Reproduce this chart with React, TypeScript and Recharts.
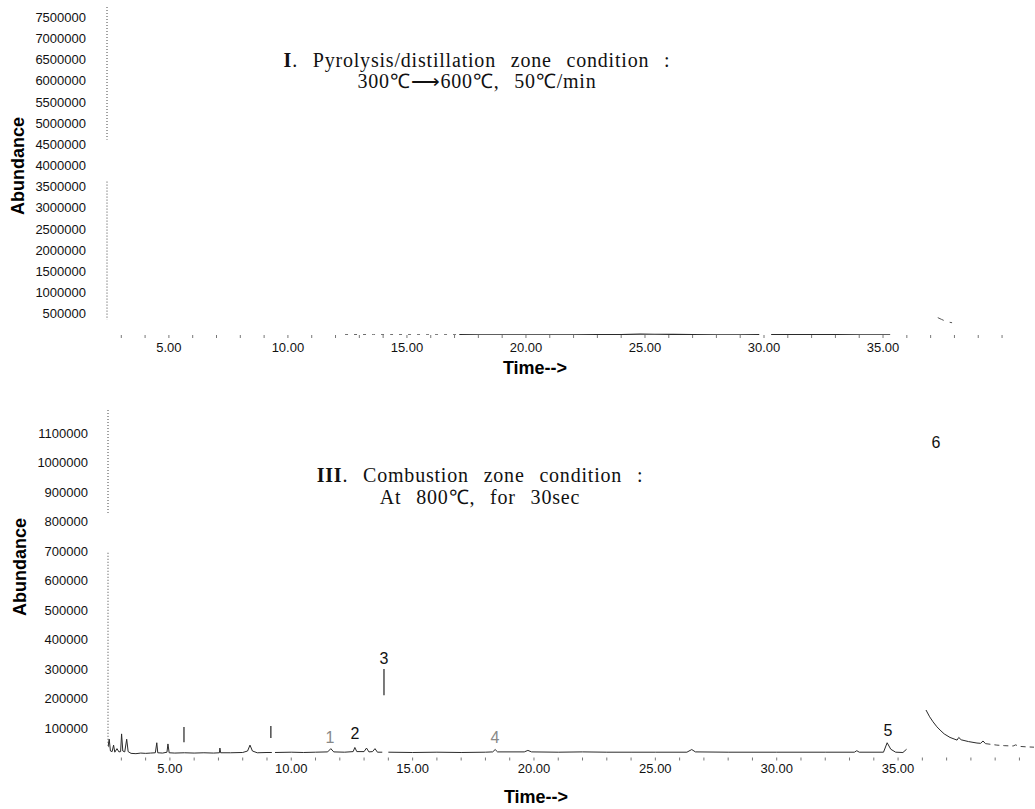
import { LineChart, Line, XAxis, YAxis, ReferenceLine, ReferenceDot, Label } from 'recharts';

type Pt = [number, number | null];

/* ── Panel I: pyrolysis / distillation zone ── */
const PYRO_Y_TICKS = [
  500000, 1000000, 1500000, 2000000, 2500000, 3000000, 3500000,
  4000000, 4500000, 5000000, 5500000, 6000000, 6500000, 7000000, 7500000,
];
// faint start of the baseline (scan drops most of it)
const PYRO_EARLY: Pt[] = [
  [12.4, 9000], [13.0, 12000], [13.6, 8000], [14.3, 10000], [15.0, 9000],
  [15.8, 7000], [16.5, 8000], [17.2, 8000],
];
const PYRO_MAIN: Pt[] = [
  [17.2, 8000], [18.0, 6000], [19.0, 5000], [20.0, 6000], [21.0, 5000],
  [22.0, 6000], [23.0, 8000], [24.0, 12000], [24.8, 22000], [25.4, 18000],
  [26.2, 14000], [27.0, 8000], [28.0, 6000], [29.0, 6000], [29.8, 7000],
  [30.0, null], [30.3, 7000], [31.0, 9000], [32.0, 8000], [33.0, 7000],
  [34.0, 6000], [35.3, 6000],
];
const PYRO_TAIL: Pt[] = [
  [37.3, 410000], [37.45, 370000], [37.55, 345000], [37.65, null],
  [37.8, 300000], [37.9, 290000],
];

/* ── Panel III: combustion zone ── */
const COMB_Y_TICKS = [
  100000, 200000, 300000, 400000, 500000, 600000,
  700000, 800000, 900000, 1000000, 1100000,
];
const COMB_TRACE: Pt[] = [
  [2.45, 35000], [2.5, 62000], [2.55, 22000], [2.62, 20000], [2.68, 42000],
  [2.73, 18000], [2.82, 30000], [2.9, 19000], [2.97, 20000], [3.01, 80000],
  [3.06, 22000], [3.14, 19000], [3.22, 62000], [3.28, 20000], [3.4, 14000],
  [3.6, 13000], [3.8, 15000], [4.0, 14000], [4.2, 15000], [4.4, 16000],
  [4.46, 50000], [4.5, 16000], [4.7, 15000], [4.88, 18000], [4.92, 46000],
  [4.97, 16000], [5.2, 15000], [5.6, 16000], [6.0, 15000], [6.4, 16000],
  [6.8, 15000], [7.04, 16000], [7.06, 32000], [7.09, 16000], [7.5, 16000],
  [8.0, 17000], [8.2, 22000], [8.3, 42000], [8.4, 22000], [8.6, 16000],
  [9.0, 17000], [9.2, 17000], [9.26, null], [9.33, 17000], [10.0, 18000],
  [10.5, 17000], [11.0, 18000], [11.5, 19000], [11.63, 30000], [11.75, 19000],
  [12.2, 18000], [12.55, 20000], [12.62, 34000], [12.7, 20000], [13.0, 20000],
  [13.1, 32000], [13.2, 19000], [13.35, 20000], [13.45, 30000], [13.55, 18000],
  [13.75, 18000], [13.85, null], [14.0, 18000], [15.0, 17000], [16.0, 18000],
  [17.0, 17000], [18.0, 18000], [18.3, 19000], [18.4, 27000], [18.5, 19000],
  [19.6, 19000], [19.75, 24000], [19.9, 19000], [21.0, 18000], [22.0, 19000],
  [23.0, 18000], [24.0, 18000], [25.0, 18000], [26.3, 18000], [26.5, 27000],
  [26.65, 19000], [28.0, 18000], [30.0, 18000], [32.0, 18000], [33.2, 18000],
  [33.3, 23000], [33.4, 18000], [34.4, 18000], [34.55, 50000], [34.7, 28000],
  [34.9, 18000], [35.2, 17000], [35.35, 28000],
];
const COMB_TAIL: Pt[] = [
  [36.15, 161000], [36.3, 138000], [36.44, 121000], [36.6, 104000],
  [36.73, 93000], [36.9, 80000], [37.14, 68000], [37.43, 59000],
  [37.5, 68000], [37.6, 60000], [37.9, 54000], [38.25, 49000],
  [38.4, 48000], [38.5, 56000], [38.6, 47000],
];
const COMB_TAIL_FADED: Pt[] = [
  [38.6, 47000], [39.07, 42000], [39.4, 40000], [39.74, 39000],
  [39.85, 43000], [39.95, 38000], [40.3, 36000], [40.6, 35000],
];
const PEAK_LABELS = [
  { id: '1', t: 11.59, v: 69000, faint: true },
  { id: '2', t: 12.62, v: 83000, faint: false },
  { id: '3', t: 13.82, v: 337000, faint: false },
  { id: '4', t: 18.39, v: 69000, faint: true },
  { id: '5', t: 34.58, v: 93000, faint: false },
  { id: '6', t: 36.56, v: 1069000, faint: false },
];
const PEAK_MARKS = [
  { t: 5.58, from: 52000, to: 103000 },
  { t: 9.16, from: 66000, to: 107000 },
  { t: 13.82, from: 211000, to: 300000 },
];

const MINUTE_TICKS = [
  3, 4, 5, 6, 7, 8, 9, 10, 11, 12, 13, 14, 15, 16, 17, 18, 19, 20, 21,
  22, 23, 24, 25, 26, 27, 28, 29, 30, 31, 32, 33, 34, 35, 36, 37, 38, 39, 40,
];
const LABELED_MINUTES = [5, 10, 15, 20, 25, 30, 35];

const toRows = (pts: Pt[]) => pts.map(([t, v]) => ({ t, v }));

const SANS = "'Liberation Sans', Arial, sans-serif";
const SERIF = "'Liberation Serif', 'Times New Roman', serif";
const INK = '#2a2a2a';

const tickStyle = { fill: '#111', fontSize: 13, fontFamily: SANS };
const minuteLabel = (v: number) => (LABELED_MINUTES.includes(v) ? v.toFixed(2) : '');

const axisTitle = (x: number, y: number) => () => (
  <text x={x} y={y} textAnchor="middle" dominantBaseline="central"
    transform={`rotate(-90, ${x}, ${y})`}
    style={{ fontFamily: SANS, fontSize: 18, fontWeight: 700, fill: '#000' }}>
    Abundance
  </text>
);
const timeTitle = (x: number, y: number) => () => (
  <text x={x} y={y} textAnchor="middle" dominantBaseline="central"
    style={{ fontFamily: SANS, fontSize: 18, fontWeight: 700, fill: '#000' }}>
    {'Time-->'}
  </text>
);

const titleStyle: React.CSSProperties = {
  position: 'absolute', width: 600, textAlign: 'center', fontFamily: SERIF,
  fontSize: 20, lineHeight: '21px', color: '#111', wordSpacing: 9, letterSpacing: 0.8,
  whiteSpace: 'nowrap',
};

export default function App() {
  const pyroMin = 2.4;
  const combMin = 2.45;
  return (
    <div style={{ position: 'absolute', left: 0, top: 0, width: 1035, height: 809, background: '#fff' }}>
      {/* Panel I */}
      <div style={{ position: 'absolute', left: 0, top: 0 }}>
        <LineChart width={1035} height={390} margin={{ top: 7, right: 2, bottom: 25, left: 0 }}>
          <XAxis dataKey="t" type="number" domain={[pyroMin, 41.3]} allowDataOverflow
            ticks={MINUTE_TICKS} interval={0} tickFormatter={minuteLabel}
            axisLine={false} tickLine={{ stroke: '#777' }} tickSize={3} tickMargin={5}
            tick={tickStyle} height={30} label={<Label content={timeTitle(535, 368)} />} />
          <YAxis type="number" domain={[0, 7740000]} allowDataOverflow ticks={PYRO_Y_TICKS}
            width={107} axisLine={false} tickLine={false} tickSize={6} tickMargin={15}
            tick={tickStyle} label={<Label content={axisTitle(18, 166)} />} />
          <ReferenceLine segment={[{ x: pyroMin, y: 7740000 }, { x: pyroMin, y: 4610000 }]}
            stroke="#444" strokeDasharray="1 2" ifOverflow="visible" />
          <ReferenceLine segment={[{ x: pyroMin, y: 3620000 }, { x: pyroMin, y: 360000 }]}
            stroke="#444" strokeDasharray="1 2" ifOverflow="visible" />
          <Line data={toRows(PYRO_EARLY)} dataKey="v" stroke="#666" strokeWidth={1}
            strokeDasharray="3 6" dot={false} isAnimationActive={false} />
          <Line data={toRows(PYRO_MAIN)} dataKey="v" stroke={INK} strokeWidth={1.2}
            dot={false} isAnimationActive={false} />
          <Line data={toRows(PYRO_TAIL)} dataKey="v" stroke="#555" strokeWidth={1}
            dot={false} isAnimationActive={false} />
        </LineChart>
      </div>
      <div style={{ ...titleStyle, left: 177, top: 50 }}>
        <b>I</b>. Pyrolysis/distillation zone condition :<br />
        300℃⟶600℃, 50℃/min
      </div>

      {/* Panel III */}
      <div style={{ position: 'absolute', left: 0, top: 400 }}>
        <LineChart width={1035} height={409} margin={{ top: 10, right: 1, bottom: 21.5, left: 0 }}>
          <XAxis dataKey="t" type="number" domain={[combMin, 40.6]} allowDataOverflow
            ticks={MINUTE_TICKS} interval={0} tickFormatter={minuteLabel}
            axisLine={false} tickLine={{ stroke: '#777' }} tickSize={3} tickMargin={3}
            tick={tickStyle} height={30} label={<Label content={timeTitle(536, 397)} />} />
          <YAxis type="number" domain={[0, 1178000]} allowDataOverflow ticks={COMB_Y_TICKS}
            width={108} axisLine={false} tickLine={false} tickSize={6} tickMargin={14}
            tick={tickStyle} label={<Label content={axisTitle(20, 167)} />} />
          <ReferenceLine segment={[{ x: combMin, y: 1178000 }, { x: combMin, y: 829000 }]}
            stroke="#444" strokeDasharray="1 2" ifOverflow="visible" />
          <ReferenceLine segment={[{ x: combMin, y: 694000 }, { x: combMin, y: 36000 }]}
            stroke="#444" strokeDasharray="1 2" ifOverflow="visible" />
          {PEAK_MARKS.map((m, i) => (
            <ReferenceLine key={`mark-${i}`} segment={[{ x: m.t, y: m.from }, { x: m.t, y: m.to }]}
              stroke="#222" strokeWidth={1.2} ifOverflow="visible" />
          ))}
          <Line data={toRows(COMB_TRACE)} dataKey="v" stroke={INK} strokeWidth={1}
            dot={false} isAnimationActive={false} />
          <Line data={toRows(COMB_TAIL)} dataKey="v" stroke={INK} strokeWidth={1}
            dot={false} isAnimationActive={false} />
          <Line data={toRows(COMB_TAIL_FADED)} dataKey="v" stroke="#444" strokeWidth={1}
            strokeDasharray="5 4" dot={false} isAnimationActive={false} />
          {PEAK_LABELS.map((p) => (
            <ReferenceDot key={p.id} x={p.t} y={p.v} r={0} ifOverflow="visible"
              label={{ value: p.id, position: 'center', fontSize: 16, fontFamily: SANS,
                fill: p.faint ? '#888' : '#111' }} />
          ))}
        </LineChart>
      </div>
      <div style={{ ...titleStyle, left: 180, top: 464, lineHeight: '22px' }}>
        <b>III</b>. Combustion zone condition :<br />
        At 800℃, for 30sec
      </div>
    </div>
  );
}
